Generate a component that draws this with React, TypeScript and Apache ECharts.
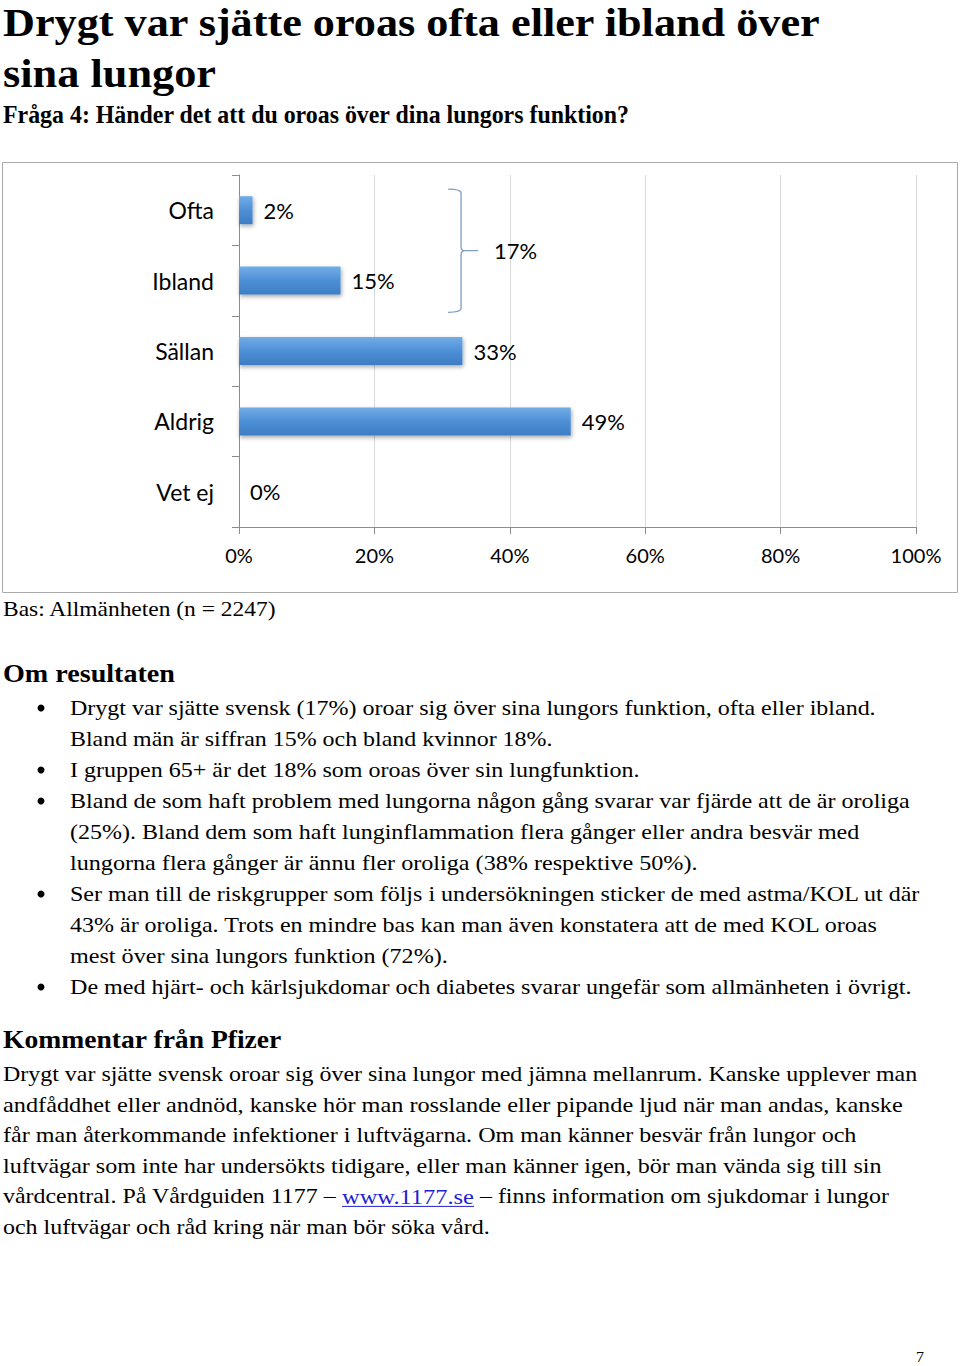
import React, { useEffect, useRef } from "react";
import * as echarts from "echarts";

// ---------- chart data ----------
const categories = ["Ofta", "Ibland", "Sällan", "Aldrig", "Vet ej"];
const shares = [2, 15, 33, 49, 0];
const axisTicks = [0, 20, 40, 60, 80, 100];
const groupedIdx = [0, 1]; // Ofta + Ibland are bracketed together

// ---------- page texts ----------
const titleLines = ["Drygt var sjätte oroas ofta eller ibland över", "sina lungor"];
const subtitle = "Fråga 4: Händer det att du oroas över dina lungors funktion?";
const baseNote = "Bas: Allmänheten (n = 2247)";
const resultHeading = "Om resultaten";
const bulletLines = [
  ["Drygt var sjätte svensk (17%) oroar sig över sina lungors funktion, ofta eller ibland.", "Bland män är siffran 15% och bland kvinnor 18%."],
  ["I gruppen 65+ är det 18% som oroas över sin lungfunktion."],
  ["Bland de som haft problem med lungorna någon gång svarar var fjärde att de är oroliga", "(25%). Bland dem som haft lunginflammation flera gånger eller andra besvär med", "lungorna flera gånger är ännu fler oroliga (38% respektive 50%)."],
  ["Ser man till de riskgrupper som följs i undersökningen sticker de med astma/KOL ut där", "43% är oroliga. Trots en mindre bas kan man även konstatera att de med KOL oroas", "mest över sina lungors funktion (72%)."],
  ["De med hjärt- och kärlsjukdomar och diabetes svarar ungefär som allmänheten i övrigt."],
];
const commentHeading = "Kommentar från Pfizer";
const commentLines = [
  "Drygt var sjätte svensk oroar sig över sina lungor med jämna mellanrum. Kanske upplever man",
  "andfåddhet eller andnöd, kanske hör man rosslande eller pipande ljud när man andas, kanske",
  "får man återkommande infektioner i luftvägarna. Om man känner besvär från lungor och",
  "luftvägar som inte har undersökts tidigare, eller man känner igen, bör man vända sig till sin",
];
const linkLinePre = "vårdcentral. På Vårdguiden 1177 – ";
const linkText = "www.1177.se";
const linkLinePost = " – finns information om sjukdomar i lungor";
const lastCommentLine = "och luftvägar och råd kring när man bör söka vård.";
const pageNumber = "7";

// ---------- layout (pixel positions of the page text) ----------
const bulletRights = [876, 553, 640, 910, 860, 698, 921, 878, 448, 912];
const commentRights = [918, 903, 857, 882];

const SERIF = '"Liberation Serif", "Times New Roman", serif';
const SANS = 'Lato, "Open Sans", sans-serif';

let measureCtx: CanvasRenderingContext2D | null = null;
function measure(text: string, size: number, weight: string) {
  if (!measureCtx) measureCtx = document.createElement("canvas").getContext("2d");
  measureCtx!.font = `${weight} ${size}px ${SERIF}`;
  return measureCtx!.measureText(text).width;
}

function textEl(text: string, left: number, right: number, baseline: number, size: number, weight = "normal", color = "#000") {
  const w = measure(text, size, weight);
  const sx = (right - left) / w;
  return {
    type: "text",
    x: left,
    y: baseline - 0.3375 * size,
    scaleX: sx,
    silent: true,
    style: {
      text,
      x: 0,
      y: 0,
      fontFamily: SERIF,
      fontSize: size,
      fontWeight: weight,
      fill: color,
      align: "left",
      textAlign: "left",
      verticalAlign: "middle",
      textVerticalAlign: "middle",
    },
  };
}

export default function App() {
  const ref = useRef<HTMLDivElement>(null);

  useEffect(() => {
    if (!ref.current) return;
    const chart = echarts.init(ref.current, undefined, { renderer: "svg" });

    const barGradient = new echarts.graphic.LinearGradient(0, 0, 0, 1, [
      { offset: 0, color: "#72ade6" },
      { offset: 0.5, color: "#4e8fd6" },
      { offset: 1, color: "#3d7dc4" },
    ]);

    chart.setOption({
      animation: false,
      backgroundColor: "#ffffff",
      grid: { left: 239, top: 175, width: 677, height: 352, containLabel: false },
      xAxis: {
        type: "value",
        min: axisTicks[0],
        max: axisTicks[axisTicks.length - 1],
        interval: axisTicks[1] - axisTicks[0],
        axisLine: { show: true, lineStyle: { color: "#8c8c8c", width: 1 } },
        axisTick: { show: true, length: 7, lineStyle: { color: "#8c8c8c" } },
        axisLabel: { formatter: "{value}%", margin: 18, color: "#000", fontFamily: SANS, fontSize: 20 },
        splitLine: { show: true, lineStyle: { color: "#d9d9d9", width: 1 } },
      },
      yAxis: {
        type: "category",
        inverse: true,
        data: categories,
        axisLine: { show: true, lineStyle: { color: "#8c8c8c", width: 1 } },
        axisTick: { show: true, length: 7, interval: 0, lineStyle: { color: "#8c8c8c" } },
        axisLabel: { margin: 25, color: "#000", fontFamily: SANS, fontSize: 23, interval: 0 },
        splitLine: { show: false },
      },
      series: [
        {
          type: "bar",
          data: shares,
          barWidth: 28,
          itemStyle: {
            color: barGradient,
            shadowBlur: 4,
            shadowColor: "rgba(0,0,0,0.35)",
            shadowOffsetX: 1,
            shadowOffsetY: 2,
          },
          label: {
            show: true,
            position: "right",
            distance: 11,
            formatter: "{c}%",
            color: "#000",
            fontFamily: SANS,
            fontSize: 22,
          },
        },
      ],
    });

    // bracket around the grouped categories
    const yA = chart.convertToPixel({ yAxisIndex: 0 }, groupedIdx[0]) as number;
    const yB = chart.convertToPixel({ yAxisIndex: 0 }, groupedIdx[groupedIdx.length - 1]) as number;
    const band = yB - yA;
    const yTop = yA - 0.3 * band;
    const yBot = yB + 0.45 * band;
    const yMid = (yTop + yBot) / 2;
    const x1 = chart.convertToPixel({ xAxisIndex: 0 }, 32.8) as number;
    const x0 = x1 - 13;
    const x2 = x1 + 17;
    const r = 4;
    const d =
      `M${x0},${yTop} Q${x1},${yTop} ${x1},${yTop + r} L${x1},${yMid - r} Q${x1},${yMid} ${x1 + r},${yMid} L${x2},${yMid} ` +
      `M${x1 + r},${yMid} Q${x1},${yMid} ${x1},${yMid + r} L${x1},${yBot - r} Q${x1},${yBot} ${x0},${yBot}`;
    echarts.graphic.registerShape("brace", echarts.graphic.extendPath(d, {}));
    const groupSum = groupedIdx.reduce((s, i) => s + shares[i], 0);

    const g: any[] = [];
    // chart frame
    g.push({
      type: "rect",
      silent: true,
      shape: { x: 2.5, y: 162.5, width: 955, height: 430 },
      style: { fill: "none", stroke: "#a9a9a9", lineWidth: 1 },
    });
    g.push({ type: "brace", x: 0, y: 0, silent: true, style: { fill: "none", stroke: "#7f9ec7", lineWidth: 1.3 } });
    g.push({
      type: "text",
      x: x2 + 16,
      y: yMid,
      silent: true,
      style: {
        text: `${groupSum}%`,
        fontFamily: SANS,
        fontSize: 22,
        fill: "#000",
        align: "left",
        textAlign: "left",
        verticalAlign: "middle",
        textVerticalAlign: "middle",
      },
    });

    // titles
    g.push(textEl(titleLines[0], 3, 822, 36, 40, "bold"));
    g.push(textEl(titleLines[1], 3, 216, 87, 40, "bold"));
    g.push(textEl(subtitle, 3, 630, 123, 25, "bold"));
    g.push(textEl(baseNote, 3, 277, 616, 22));
    g.push(textEl(resultHeading, 3, 175, 682, 26, "bold"));

    // bullets
    let li = 0;
    bulletLines.forEach((lines) => {
      lines.forEach((line, j) => {
        const base = 715 + 31 * li;
        if (j === 0) {
          g.push({ type: "circle", silent: true, shape: { cx: 41, cy: base - 7, r: 3.5 }, style: { fill: "#000" } });
        }
        g.push(textEl(line, 70, bulletRights[li], base, 22));
        li++;
      });
    });

    // comment section
    g.push(textEl(commentHeading, 3, 282, 1048, 26, "bold"));
    const cStep = 30.6;
    commentLines.forEach((line, i) => {
      g.push(textEl(line, 3, commentRights[i], 1081 + cStep * i, 22));
    });
    const b5 = 1081 + cStep * 4;
    g.push(textEl(linkLinePre, 3, 342, b5, 22));
    g.push(textEl(linkText, 342, 474, b5, 22, "normal", "#1f1fd6"));
    g.push({ type: "line", silent: true, shape: { x1: 342, y1: b5 + 3, x2: 474, y2: b5 + 3 }, style: { stroke: "#1f1fd6", lineWidth: 1 } });
    g.push(textEl(linkLinePost, 474, 889, b5, 22));
    g.push(textEl(lastCommentLine, 3, 490, 1081 + cStep * 5, 22));

    // page number
    g.push(textEl(pageNumber, 916, 924, 1362, 14));

    chart.setOption({ graphic: g });

    return () => chart.dispose();
  }, []);

  return (
    <div
      ref={ref}
      style={{ position: "absolute", left: 0, top: 0, width: 960, height: 1366, background: "#fff" }}
    />
  );
}
